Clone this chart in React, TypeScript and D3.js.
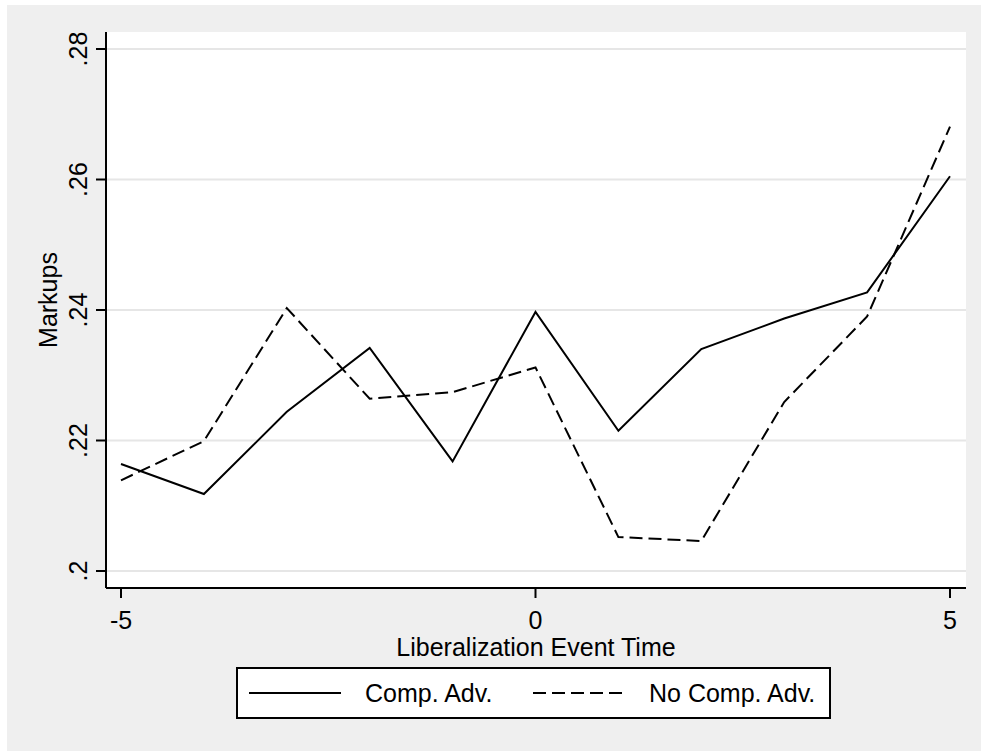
import * as d3 from "d3";

// event time on the x axis
const eventTime = [-5, -4, -3, -2, -1, 0, 1, 2, 3, 4, 5];
// markups, comparative advantage sectors
const compAdv = [0.2164, 0.2118, 0.2244, 0.2342, 0.2168, 0.2397, 0.2215, 0.234, 0.2387, 0.2427, 0.2605];
// markups, no comparative advantage
const noCompAdv = [0.2139, 0.2199, 0.2403, 0.2264, 0.2274, 0.2312, 0.2052, 0.2046, 0.2259, 0.239, 0.2681];

const yTicks = [0.2, 0.22, 0.24, 0.26, 0.28];
const xTicks = [-5, 0, 5];
const legendLabels = ["Comp. Adv.", "No Comp. Adv."];

const W = 981;
const H = 753;
const FONT = "'Liberation Sans', Arial, Helvetica, sans-serif";
const FS = 25;
const DASH = "13,6";

export default function App() {
  // plot area
  const plot = { left: 106, right: 966, top: 32, bottom: 588 };

  const x = d3.scaleLinear().domain([-5, 5]).range([121, 950]);
  const y = d3.scaleLinear().domain([0.2, 0.28]).range([571, 49]);

  const line = d3
    .line<number>()
    .x((_, i) => x(eventTime[i]))
    .y((d) => y(d));

  // stata-ish tick format: ".2", ".22"
  const fmtY = (v: number) => d3.format(".2~f")(v).replace(/^0/, "");

  const legend = { x: 237, y: 668, w: 593, h: 50 };
  const legendY = legend.y + legend.h / 2;

  return (
    <div style={{ position: "absolute", left: 0, top: 0 }}>
      <svg width={W} height={H} style={{ display: "block", fontFamily: FONT }}>
        <rect x={0} y={0} width={W} height={H} fill="#ffffff" />
        <rect x={7} y={5} width={W - 7} height={746} fill="#efefef" />
        <rect
          x={plot.left}
          y={plot.top}
          width={plot.right - plot.left}
          height={plot.bottom - plot.top}
          fill="#ffffff"
        />

        {/* grid lines */}
        {yTicks.map((t) => (
          <line
            key={"g" + t}
            x1={plot.left}
            x2={plot.right}
            y1={y(t)}
            y2={y(t)}
            stroke="#e6e6e6"
            strokeWidth={2}
          />
        ))}

        {/* series */}
        <path d={line(compAdv) || ""} fill="none" stroke="#000" strokeWidth={2} />
        <path d={line(noCompAdv) || ""} fill="none" stroke="#000" strokeWidth={2} strokeDasharray={DASH} />

        {/* y axis */}
        <line x1={plot.left} x2={plot.left} y1={plot.top} y2={plot.bottom} stroke="#000" strokeWidth={2} />
        {yTicks.map((t) => (
          <g key={"y" + t} transform={`translate(${plot.left},${y(t)})`}>
            <line x1={-10} x2={0} stroke="#000" strokeWidth={2} />
            <text transform="translate(-19,0) rotate(-90)" textAnchor="middle" fontSize={FS} fill="#000">
              {fmtY(t)}
            </text>
          </g>
        ))}
        <text
          transform={`translate(57,${(plot.top + plot.bottom) / 2 - 10}) rotate(-90)`}
          textAnchor="middle"
          fontSize={FS}
          fill="#000"
        >
          Markups
        </text>

        {/* x axis */}
        <line x1={plot.left} x2={plot.right} y1={plot.bottom} y2={plot.bottom} stroke="#000" strokeWidth={2} />
        {xTicks.map((t) => (
          <g key={"x" + t} transform={`translate(${x(t)},${plot.bottom})`}>
            <line y1={0} y2={10} stroke="#000" strokeWidth={2} />
            <text y={41} textAnchor="middle" fontSize={FS} fill="#000">
              {t}
            </text>
          </g>
        ))}
        <text x={(plot.left + plot.right) / 2} y={656} textAnchor="middle" fontSize={FS} fill="#000">
          Liberalization Event Time
        </text>

        {/* legend */}
        <rect x={legend.x} y={legend.y} width={legend.w} height={legend.h} fill="#fff" stroke="#000" strokeWidth={2} />
        <line x1={249} x2={341} y1={legendY} y2={legendY} stroke="#000" strokeWidth={2} />
        <text x={365} y={legendY + 9} fontSize={FS} fill="#000">
          {legendLabels[0]}
        </text>
        <line x1={533} x2={626} y1={legendY} y2={legendY} stroke="#000" strokeWidth={2} strokeDasharray={DASH} />
        <text x={649} y={legendY + 9} fontSize={FS} fill="#000">
          {legendLabels[1]}
        </text>
      </svg>
    </div>
  );
}
